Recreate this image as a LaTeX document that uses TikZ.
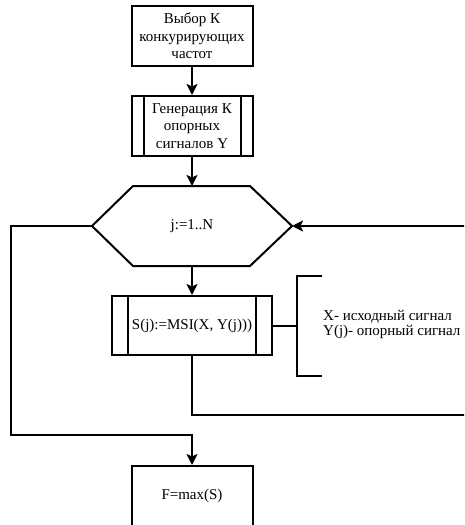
\documentclass[tikz,border=0pt]{standalone}
\usepackage{fontspec}
\setmainfont{Liberation Serif}
\usetikzlibrary{positioning}
\usetikzlibrary{arrows.meta}

\tikzset{
    blk/.style={draw, line width=2pt, minimum width=121pt, minimum height=60pt,
        align=center, inner sep=2pt, font=\fontsize{15}{17.5}\selectfont},
    subblk/.style={blk, path picture={
        \draw[line width=2pt] ([xshift=#1]path picture bounding box.north west) -- ([xshift=#1]path picture bounding box.south west)
            ([xshift=-#1]path picture bounding box.north east) -- ([xshift=-#1]path picture bounding box.south east);}},
    flow/.style={line width=2pt, -{Stealth[length=11pt, width=11pt, inset=2.5pt]}},
    link/.style={line width=2pt},
}

\begin{document}
\begin{tikzpicture}[x=1pt, y=-1pt]
    \useasboundingbox (0,0) rectangle (464,525);
    \clip (0,0) rectangle (464,525);

    \node [blk] (sel) at (192,36) {Выбор К\\конкурирующих\\частот};
    \node [subblk=12pt] (gen) at (192,126) {Генерация К\\опорных\\сигналов Y};

    % loop header
    \node [minimum width=200pt, minimum height=80pt, inner sep=0pt, outer sep=0pt,
        font=\fontsize{15}{17.5}\selectfont] (loop) at (192,226) {j:=1..N};
    \draw[link] (loop.west) -- ([xshift=41pt]loop.north west) -- ([xshift=-42pt]loop.north east)
        -- (loop.east) -- ([xshift=-42pt]loop.south east) -- ([xshift=41pt]loop.south west) -- cycle;

    \node [subblk=16pt, minimum width=160pt, minimum height=59pt] (msi) at (192,325.5) {S(j):=MSI(X, Y(j)))};
    \node [blk] (res) at (192,496) {F=max(S)};

    % comment
    \node [anchor=west, align=left, inner sep=0pt, font=\fontsize{15}{15}\selectfont] (note) at (323,324)
        {X- исходный сигнал\\Y(j)- опорный сигнал};
    \coordinate (brk) at (297,325.5);
    \coordinate (btop) at (322,276);
    \coordinate (bbot) at (322,376);

    \coordinate (lft) at (11,435);
    \coordinate (back) at (480,415);

    \draw[flow] (sel) -- (gen);
    \draw[flow] (gen) -- (loop);
    \draw[flow] (loop) -- (msi);
    \draw[flow] (msi.south) |- (back) |- (loop.east);
    \draw[flow] (loop.west) -| (lft) -- (lft -| res.north) -- (res.north);

    \draw[link] (msi.east) -- (brk);
    \draw[link] (btop) -| (brk) |- (bbot);
\end{tikzpicture}
\end{document}
